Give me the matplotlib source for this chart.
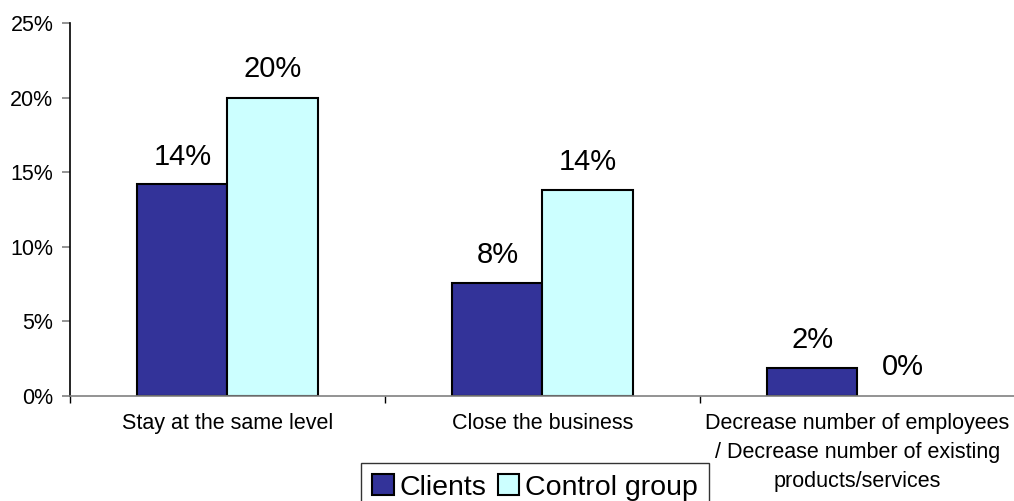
import numpy as np
import matplotlib.pyplot as plt

plt.rcParams['font.family'] = ['Liberation Sans', 'DejaVu Sans']

# data
categories = ['Stay at the same level', 'Close the business',
              'Decrease number of employees\n/ Decrease number of existing\nproducts/services']
clients = [14.2, 7.6, 1.9]
control = [20.0, 13.8, 0.0]
clients_lbl = ['14%', '8%', '2%']
control_lbl = ['20%', '14%', '0%']

fig = plt.figure(figsize=(10.14, 5.01), dpi=100)
ax = fig.add_axes([70/1014, 105/501, 945/1014, 373/501])

x = np.arange(len(categories))
w = 0.286
b1 = ax.bar(x - w/2, clients, w, color='#333399', edgecolor='black', linewidth=1.5, label='Clients')
b2 = ax.bar(x + w/2, control, w, color='#CCFFFF', edgecolor='black', linewidth=1.5, label='Control group')
for rect in list(b1) + list(b2):
    if rect.get_height() == 0:
        rect.set_linewidth(0)

for rect, t in zip(b1, clients_lbl):
    ax.annotate(t, (rect.get_x() + rect.get_width()/2, rect.get_height()),
                xytext=(0, 9.5), textcoords='offset points', ha='center', va='bottom', fontsize=21)
for rect, t in zip(b2, control_lbl):
    ax.annotate(t, (rect.get_x() + rect.get_width()/2, rect.get_height()),
                xytext=(0, 10.5), textcoords='offset points', ha='center', va='bottom', fontsize=21)

ax.set_xlim(-0.5, 2.5)
ax.set_ylim(0, 25)
ax.set_yticks([0, 5, 10, 15, 20, 25])
ax.set_yticklabels(['0%', '5%', '10%', '15%', '20%', '25%'], fontsize=15.5)
ax.tick_params(axis='y', direction='out', length=6, color='#808080', width=1.2, pad=6)

# category labels at centers, tick marks at boundaries
ax.set_xticks([-0.5, 0.5, 1.5], minor=False)
ax.set_xticklabels(['', '', ''])
ax.tick_params(axis='x', which='major', direction='out', length=5, color='black', width=1)
ax.set_xticks(x, minor=True)
ax.set_xticklabels(categories, minor=True, fontsize=15.5, linespacing=1.5, va='top')
ax.tick_params(axis='x', which='minor', length=0, pad=12)

for s in ['top', 'right']:
    ax.spines[s].set_visible(False)
ax.spines['left'].set_color('black')
ax.spines['left'].set_linewidth(1.2)
ax.spines['bottom'].set_color('#808080')
ax.spines['bottom'].set_linewidth(1.2)

leg = fig.legend(loc='upper center', bbox_to_anchor=(535/1014, 1 - 463/501), ncol=2, fontsize=20.5,
                 frameon=True, fancybox=False, edgecolor='black', handlelength=0.75,
                 handleheight=0.75, handletextpad=0.2, columnspacing=0.4, borderpad=0.4,
                 borderaxespad=0)
leg.get_frame().set_linewidth(1.0)

fig.savefig('out.png', dpi=100)
